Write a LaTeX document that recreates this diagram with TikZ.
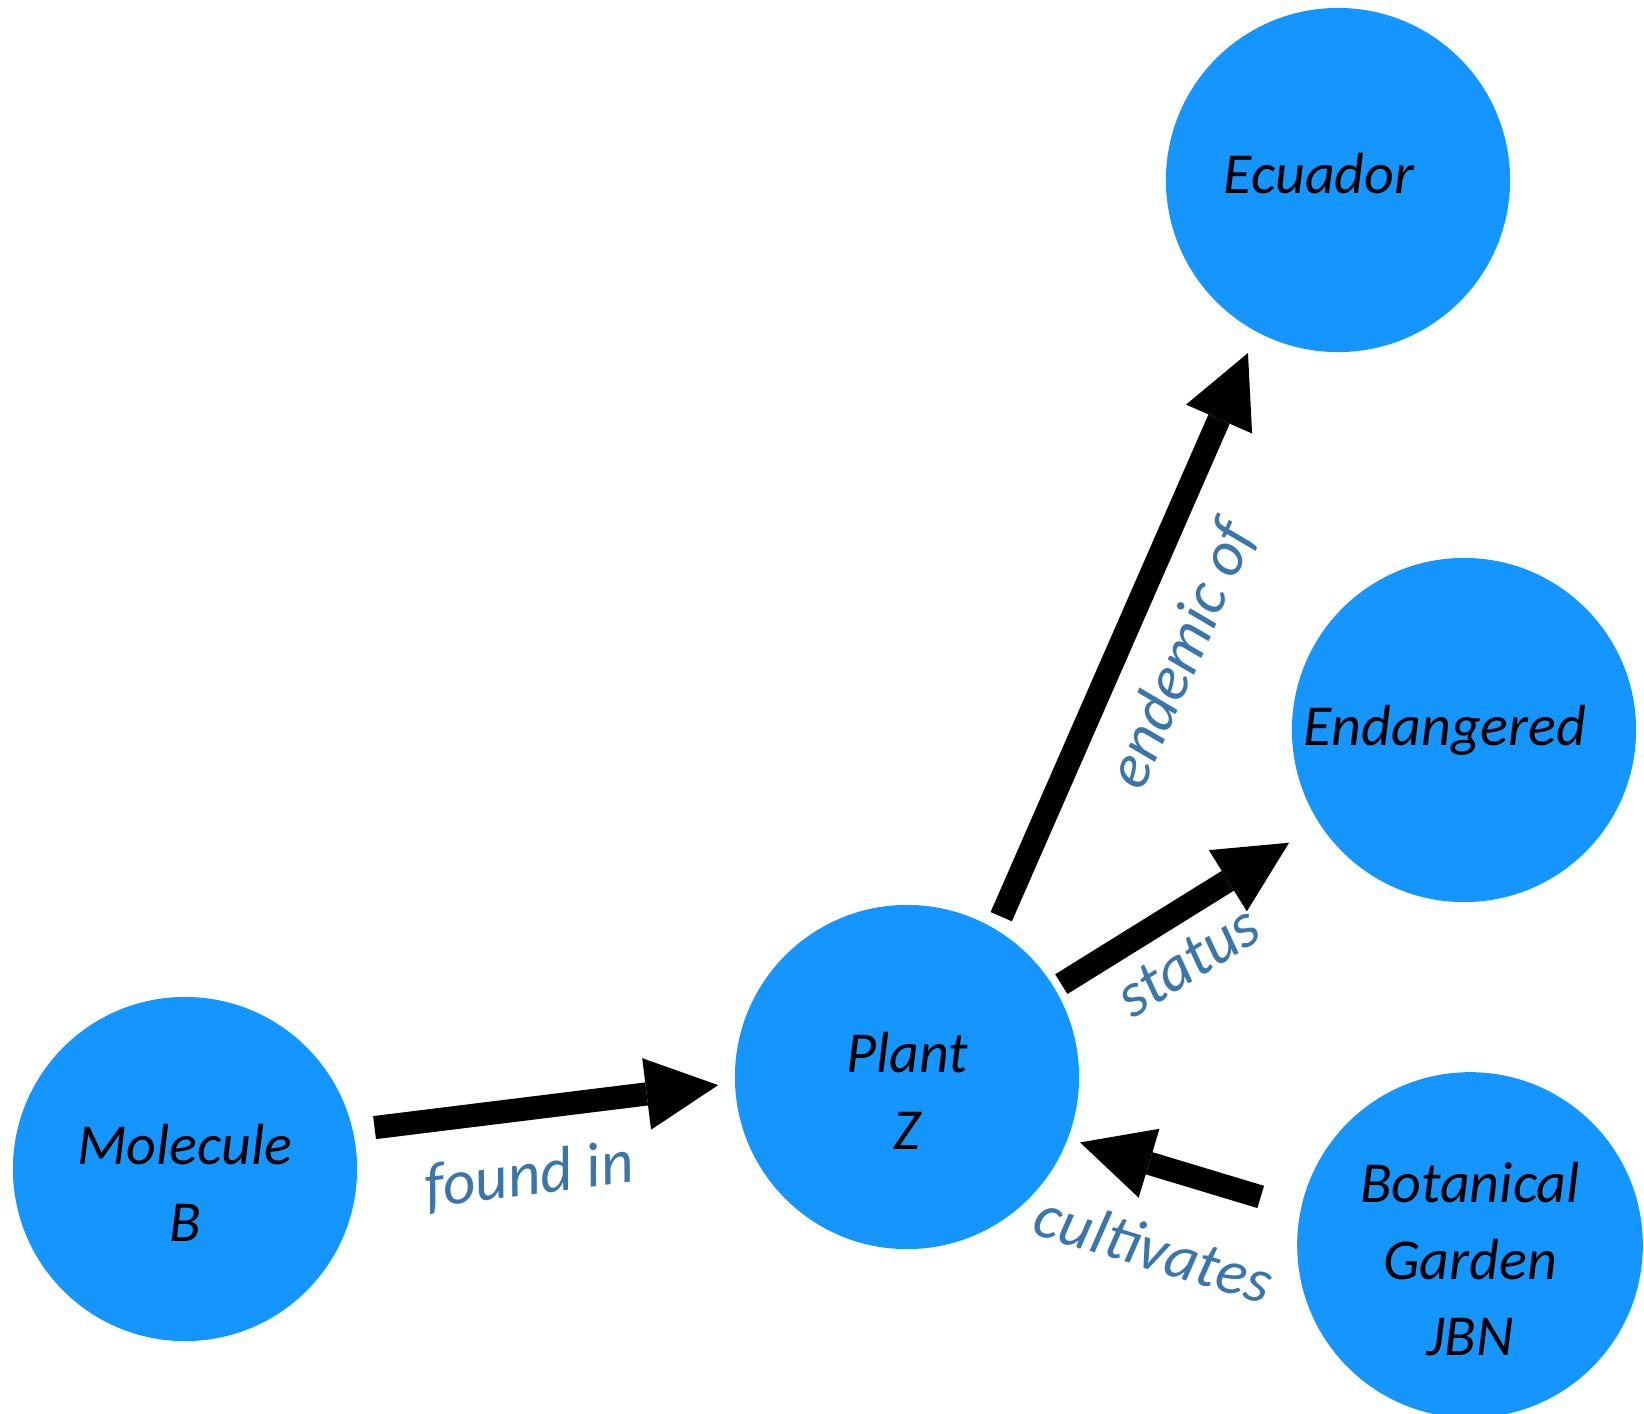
\documentclass[tikz,border=0pt]{standalone}
\usepackage{fontspec}
\setmainfont{Carlito}
\usetikzlibrary{arrows.meta}
\definecolor{entityblue}{HTML}{1596FF}
\definecolor{relblue}{HTML}{3B76AA}
\newcommand{\relation}[7]{%
  \draw[rel, shorten <=#3, shorten >=#4]
    (#1) -- node[relText, pos=#5, below=#6] {#7} (#2);%
}
% stacked entity text, set a little below the circle's centre
\newcommand{\stackText}[1]{%
  \begin{tabular}{@{}c@{}}\rule{0pt}{0.91cm}#1\end{tabular}%
}

\begin{document}
\begin{tikzpicture}[
  x=0.01cm,
  y=-0.01cm,
  every node/.style={font=\itshape\fontsize{16.5}{21.8}\selectfont},
  entity/.style={circle, fill=entityblue, minimum size=3.44cm, inner sep=0pt, outer sep=0pt},
  rel/.style={line width=6.6pt, -{Triangle[length=7.2mm, width=7.2mm, line width=0pt]}},
  relText/.style={sloped, text=relblue, inner sep=0pt, font=\itshape\fontsize{18}{22}\selectfont}
]
  \useasboundingbox (0,0) rectangle (1644,1414);

  % Entities.
  \node[entity] (molB) at (185,1169) {\stackText{Molecule\\B}};
  \node[entity] (plant) at (907,1077) {\stackText{Plant\\Z}};
  \node[entity, text depth=0.14cm] (ecuador) at (1338,180) {Ecuador\kern0.38cm};
  \node[entity] (endangered) at (1464,730) {Endangered\kern0.38cm};
  \node[entity] (jbn) at (1470,1245) {\stackText{Botanical\\Garden\\JBN}};

  % Relations.
  \relation{molB.13}{plant.182}{0.22cm}{0.17cm}{0.44}{0.3cm}{found in}
  \relation{plant.59}{ecuador.242.5}{0.14cm}{0.23cm}{0.5}{0.24cm}{endemic of}
  \relation{plant.31.4}{endangered.213}{0.08cm}{0.36cm}{0.41}{0.16cm}{status}
  \relation{jbn.168.4}{plant.339.1}{0.42cm}{0.13cm}{0.53}{0.46cm}{cultivates}
\end{tikzpicture}
\end{document}
